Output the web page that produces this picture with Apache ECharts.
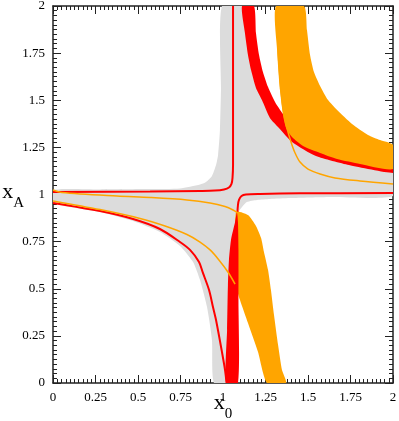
<!DOCTYPE html>
<html>
<head>
<meta charset="utf-8">
<script src="https://cdn.jsdelivr.net/npm/echarts@6/dist/echarts.min.js"></script>
<style>
  html, body { margin: 0; padding: 0; background: #fff; }
  #chart { width: 399px; height: 421px; }
</style>
</head>
<body>
<div id="chart"></div>
<script>
// axis range / ticks
const axisMin = 0
const axisMax = 2
const majorStep = 0.25

// filled regions, [x0, xA] outlines
const grayRegion = [
  [0.994, 2.0], [1.141, 2.0], [1.153, 1.857], [1.188, 1.676], [1.253, 1.512], [1.353, 1.374],
  [1.435, 1.294], [1.571, 1.22], [1.747, 1.178], [2.0, 1.136], [2.0, 0.992], [1.629, 0.987],
  [1.394, 0.981], [1.276, 0.976], [1.2, 0.971], [1.141, 0.96], [1.112, 0.934], [1.088, 0.902],
  [1.076, 0.812], [1.065, 0.653], [1.059, 0.44], [1.053, 0], [0.947, 0], [0.935, 0.228],
  [0.906, 0.403], [0.865, 0.546], [0.824, 0.642], [0.747, 0.727], [0.629, 0.801], [0.471, 0.859],
  [0.276, 0.907], [0, 0.955], [0, 1.024], [0.276, 1.027], [0.571, 1.029], [0.747, 1.032],
  [0.865, 1.053], [0.9, 1.066], [0.935, 1.098], [0.959, 1.156], [0.971, 1.21], [0.982, 1.342],
  [0.988, 1.554]
]
const redBandUpper = [
  [1.112, 2.0], [1.129, 1.857], [1.147, 1.74], [1.165, 1.66], [1.194, 1.565], [1.229, 1.501],
  [1.276, 1.406], [1.329, 1.353], [1.406, 1.279], [1.547, 1.204], [1.741, 1.156], [2.0, 1.114],
  [2.0, 1.151], [1.841, 1.194], [1.682, 1.236], [1.506, 1.305], [1.406, 1.374], [1.353, 1.427],
  [1.306, 1.491], [1.265, 1.57], [1.235, 1.65], [1.212, 1.74], [1.194, 1.857], [1.182, 2.0]
]
const orangeBandUpper = [
  [1.312, 2.0], [1.318, 1.767], [1.335, 1.554], [1.353, 1.422], [1.371, 1.353], [1.406, 1.305],
  [1.471, 1.257], [1.571, 1.22], [1.671, 1.188], [1.806, 1.162], [2.0, 1.135],
  [2.0, 1.263], [1.924, 1.289], [1.853, 1.316], [1.759, 1.374], [1.671, 1.448], [1.618, 1.501],
  [1.571, 1.576], [1.535, 1.65], [1.512, 1.74], [1.494, 1.873], [1.476, 2.0]
]
const orangeBandLower = [
  [1.076, 0.907], [1.147, 0.891], [1.194, 0.833], [1.224, 0.769], [1.241, 0.695], [1.265, 0.599],
  [1.282, 0.493], [1.3, 0.361], [1.324, 0.202], [1.347, 0.069], [1.371, 0],
  [1.259, 0], [1.206, 0.164], [1.147, 0.318], [1.1, 0.44], [1.076, 0.52]
]
const redBandLower = [
  [1.082, 0.907], [1.071, 0.854], [1.047, 0.759], [1.035, 0.653], [1.029, 0.52], [1.024, 0.281],
  [1.018, 0], [1.088, 0], [1.091, 0.44], [1.091, 0.706], [1.088, 0.854]
]

// thin curves
const redCurveUpperLeft = [
  [0, 1.013], [0.571, 1.016], [0.865, 1.019], [0.953, 1.021], [1.006, 1.027], [1.035, 1.037],
  [1.05, 1.056], [1.056, 1.088], [1.059, 1.156], [1.059, 1.395], [1.059, 2.0]
]
const redCurveRight = [
  [2.0, 1.008], [1.453, 1.006], [1.218, 1.003], [1.135, 1.0], [1.109, 0.992], [1.094, 0.971],
  [1.088, 0.944], [1.085, 0.907]
]
const redCurveLowerLeft = [
  [0, 0.955], [0.276, 0.912], [0.471, 0.87], [0.629, 0.817], [0.747, 0.748], [0.806, 0.706],
  [0.859, 0.642], [0.882, 0.584], [0.918, 0.493], [0.941, 0.403], [0.959, 0.334], [0.994, 0.164],
  [1.012, 0.069], [1.021, 0]
]
const orangeCurveUpper = [
  [1.318, 2.0], [1.324, 1.767], [1.341, 1.554], [1.359, 1.422], [1.376, 1.353], [1.4, 1.279],
  [1.424, 1.22], [1.453, 1.172], [1.5, 1.135], [1.571, 1.109], [1.659, 1.088], [1.806, 1.072],
  [2.0, 1.056]
]
const orangeCurveLeft = [
  [0, 1.024], [0.053, 1.011], [0.376, 0.992], [0.571, 0.984], [0.788, 0.971], [0.924, 0.955],
  [1.012, 0.936], [1.059, 0.918], [1.088, 0.902]
]
const orangeCurveLower = [
  [0, 0.966], [0.276, 0.92], [0.512, 0.873], [0.659, 0.833], [0.788, 0.788], [0.865, 0.748],
  [0.924, 0.706], [0.976, 0.653], [1.029, 0.589], [1.071, 0.525]
]

const RED = "#ff0000"
const ORANGE = "#ffa500"
const GRAY = "#dcdcdc"
const FONT = "Liberation Serif"

const chartBox = echarts.init(document.getElementById("chart"))

// one polygon per series, corners go through the axis scales
const region = (pts, color) => ({
  type: "custom",
  coordinateSystem: "cartesian2d",
  clip: true,
  silent: true,
  data: pts,
  renderItem: (params, api) => {
    if (params.dataIndex !== 0) return
    return {
      type: "polygon",
      shape: { points: pts.map((p) => api.coord(p)), smooth: 0.2 },
      style: { fill: color }
    }
  }
})

const curve = (pts, color, width) => ({
  type: "line",
  data: pts,
  showSymbol: false,
  smooth: 0.3,
  clip: true,
  silent: true,
  lineStyle: { color: color, width: width }
})

const baseAxis = (pos, showLabel) => ({
  type: "value",
  position: pos,
  min: axisMin,
  max: axisMax,
  interval: majorStep,
  splitLine: { show: false },
  axisLine: { show: true, onZero: false, lineStyle: { color: "#222", width: 1.5 } },
  axisTick: { show: true, inside: true, length: 8, lineStyle: { color: "#222", width: 1 } },
  minorTick: { show: true, splitNumber: 10, length: 4, lineStyle: { color: "#222", width: 1 } },
  axisLabel: { show: showLabel, fontFamily: FONT, fontSize: 13, color: "#000" }
})

// x with a lowered subscript
const nameRich = {
  a: { fontFamily: FONT, fontSize: 22, color: "#000", verticalAlign: "top", lineHeight: 24 },
  b: { fontFamily: FONT, fontSize: 15, color: "#000", verticalAlign: "bottom", lineHeight: 30 }
}

const options = {
  animation: false,
  grid: { left: 53, right: 6, top: 6, bottom: 38, containLabel: false, outerBoundsMode: "none" },
  xAxis: [
    Object.assign(baseAxis("bottom", true), {
      name: "{a|x}{b|0}",
      nameLocation: "middle",
      nameGap: 9,
      nameMoveOverlap: false,
      nameTextStyle: { rich: nameRich }
    }),
    baseAxis("top", false)
  ],
  yAxis: [
    Object.assign(baseAxis("left", true), {
      name: "{a|x}{b|A}",
      nameLocation: "middle",
      nameRotate: 0,
      nameGap: 29,
      nameMoveOverlap: false,
      nameTextStyle: { rich: nameRich, padding: [3, 0, 0, 0] }
    }),
    baseAxis("right", false)
  ],
  series: [
    region(grayRegion, GRAY),
    region(redBandUpper, RED),
    region(orangeBandUpper, ORANGE),
    region(orangeBandLower, ORANGE),
    region(redBandLower, RED),
    curve(redCurveUpperLeft, RED, 2),
    curve(redCurveRight, RED, 2),
    curve(redCurveLowerLeft, RED, 2),
    curve(orangeCurveUpper, ORANGE, 1.5),
    curve(orangeCurveLeft, ORANGE, 1.5),
    curve(orangeCurveLower, ORANGE, 1.5)
  ]
}
chartBox.setOption(options)
</script>
</body>
</html>
